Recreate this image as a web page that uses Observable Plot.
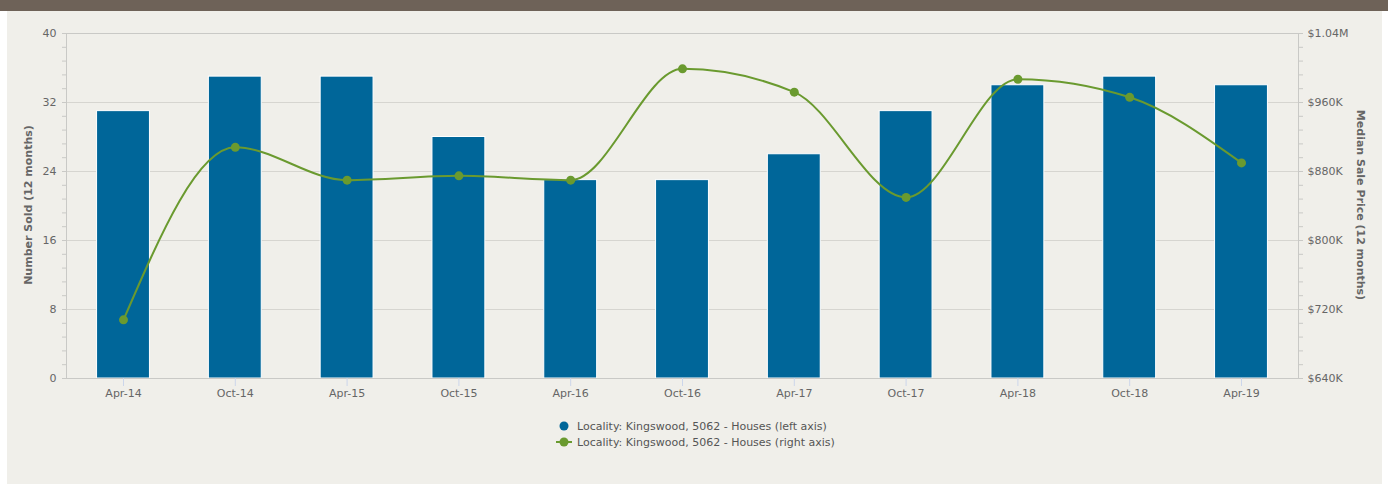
<!DOCTYPE html>
<html><head><meta charset="utf-8">
<script src="https://cdn.jsdelivr.net/npm/d3@7"></script>
<script src="https://cdn.jsdelivr.net/npm/@observablehq/plot@0.6"></script>
<style>
body{margin:0;background:#fff;font-family:"DejaVu Sans",sans-serif;}
#topbar{position:absolute;left:0;top:0;width:1388px;height:11px;background:#6e6258}
#panel{position:absolute;left:7px;top:11px;width:1375px;height:473px;background:#f0efea}
#chart{position:absolute;left:0;top:0}
.ytitle{position:absolute;font-weight:bold;font-size:11px;color:#666;white-space:nowrap}
#legend{position:absolute;left:549px;top:407px;font-size:11px;color:#555}
.item{display:flex;align-items:center;height:16px}
.item svg{margin-right:5px}
</style></head>
<body>
<div id="topbar"></div>
<div id="panel">
  <div id="chart"></div>
  <div class="ytitle" id="lt" style="left:21px;top:194px;transform:translate(-50%,-50%) rotate(-90deg)">Number Sold (12 months)</div>
  <div class="ytitle" id="rt" style="left:1353px;top:194px;transform:translate(-50%,-50%) rotate(90deg)">Median Sale Price (12 months)</div>
  <div id="legend"></div>
</div>
<script>
const categories = ["Apr-14","Oct-14","Apr-15","Oct-15","Apr-16","Oct-16","Apr-17","Oct-17","Apr-18","Oct-18","Apr-19"];
const numberSold = [31,35,35,28,23,23,26,31,34,35,34];
const medianPrice = [708000,908000,870000,875000,870000,999000,972000,850000,987000,966000,890000];
const leftTicks = [0,8,16,24,32,40];
const rightTickLabels = ["$640K","$720K","$800K","$880K","$960K","$1.04M"];
const rightMin = 640000, rightMax = 1040000;
const seriesName = "Locality: Kingswood, 5062 - Houses";

const barColor = "#006699", lineColor = "#6a9a2f";
const bars = categories.map((c,i)=>({cat:c, v:numberSold[i]}));
const toLeft = v => (v - rightMin) / (rightMax - rightMin) * 40;
const pts = categories.map((c,i)=>({cat:c, v:toLeft(medianPrice[i])}));
const minor = d3.range(0, 40.001, 1.6).filter(t => !leftTicks.some(m => Math.abs(m - t) < 1e-6));

const chart = Plot.plot({
  width:1375, height:400,
  marginLeft:59, marginRight:84, marginTop:22, marginBottom:33,
  style:{background:"transparent", fontFamily:"DejaVu Sans, sans-serif", fontSize:"11px", color:"#666"},
  x:{type:"band", domain:categories, paddingInner:0.527, paddingOuter:0.2734, round:false},
  y:{domain:[0,40]},
  marks:[
    Plot.ruleY(leftTicks.slice(1), {stroke:"#d6d5d0", strokeWidth:1}),
    Plot.barY(bars, {x:"cat", y:"v", fill:barColor, stroke:"#ffffff", strokeWidth:1}),
    Plot.frame({stroke:"#c9c9c6", strokeWidth:1}),
    Plot.axisY({anchor:"left", ticks:minor, tickSize:4, tickFormat:()=>"", stroke:"#c9c9c6", label:null}),
    Plot.axisY({anchor:"left", ticks:leftTicks, tickSize:4, tickPadding:6, stroke:"#c9c9c6", fill:"#666", label:null}),
    Plot.axisY({anchor:"right", ticks:minor, tickSize:4, tickFormat:()=>"", stroke:"#c9c9c6", label:null}),
    Plot.axisY({anchor:"right", ticks:leftTicks, tickSize:4, tickPadding:5, stroke:"#c9c9c6", fill:"#666", label:null,
      tickFormat:(d)=>rightTickLabels[leftTicks.indexOf(d)]}),
    Plot.axisX({anchor:"bottom", tickSize:8, tickPadding:3, stroke:"#ccd6eb", fill:"#666", label:null}),
    Plot.line(pts, {x:"cat", y:"v", stroke:lineColor, strokeWidth:2, curve:"monotone-x"}),
    Plot.dot(pts, {x:"cat", y:"v", fill:lineColor, r:4.5})
  ]
});
document.getElementById("chart").appendChild(chart);

const legend = document.getElementById("legend");
legend.innerHTML = `
<div class="item"><svg width="16" height="12"><circle cx="8" cy="6" r="4.5" fill="${barColor}"/></svg><span>${seriesName} (left axis)</span></div>
<div class="item"><svg width="16" height="12"><line x1="0" x2="16" y1="6" y2="6" stroke="${lineColor}" stroke-width="2"/><circle cx="8" cy="6" r="4.5" fill="${lineColor}"/></svg><span>${seriesName} (right axis)</span></div>`;
</script>
</body></html>
